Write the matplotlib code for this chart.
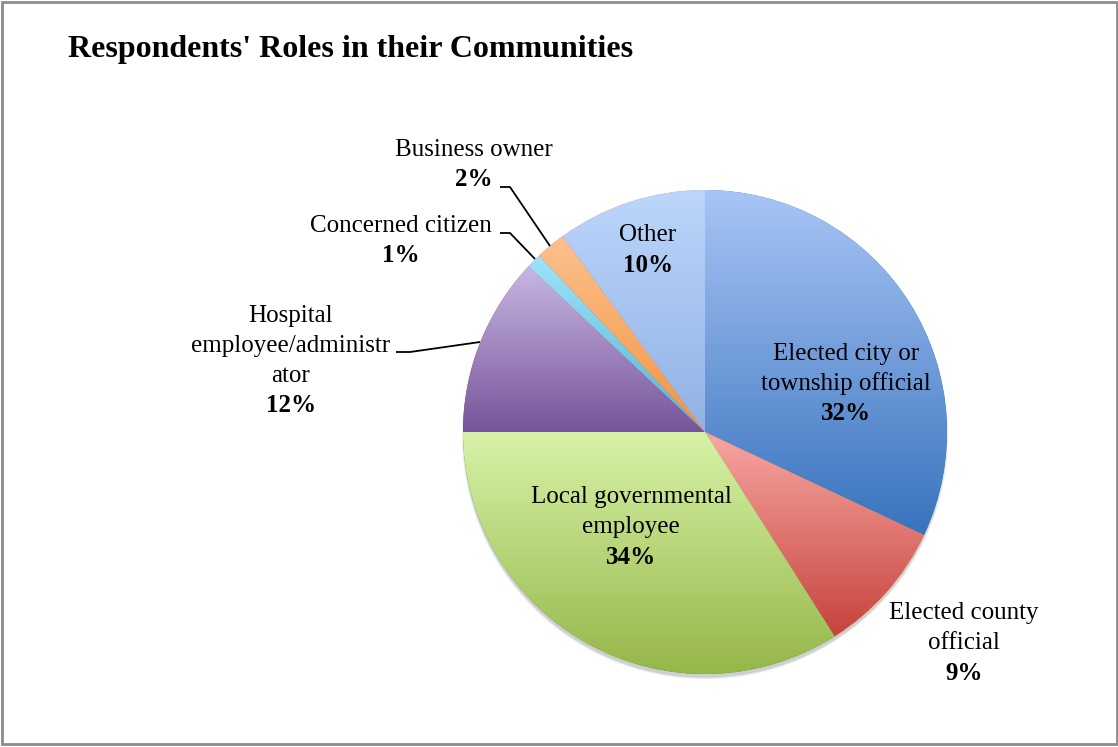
import numpy as np
import matplotlib
matplotlib.use("Agg")
import matplotlib.pyplot as plt
from matplotlib.colors import to_rgb
from matplotlib.patches import Rectangle, Circle

plt.rcParams['font.family'] = ['Liberation Serif', 'DejaVu Serif']

# Data
categories = ["Elected city or\ntownship official", "Elected county\nofficial",
              "Local governmental\nemployee", "Hospital\nemployee/administr\nator",
              "Concerned citizen", "Business owner", "Other"]
shares = [32, 9, 34, 12, 1, 2, 10]
title = "Respondents' Roles in their Communities"

# Top / bottom colours of each slice's vertical gradient
top_colors = ["#a9c5f6", "#f8a7a2", "#d7f3a8", "#c7b7e2", "#a0e2fa", "#fcc08e", "#bcd6fb"]
bottom_colors = ["#3873bd", "#c6433d", "#95b648", "#77549a", "#52b5d4", "#f2953f", "#92b2e4"]

W, H = 1118, 747
fig = plt.figure(figsize=(W / 100, H / 100), dpi=100)
ax = fig.add_axes([0, 0, 1, 1])
ax.set_axis_off()

cx, cy, R = 705, H - 432, 242

# soft shadow under the pie
for k, a in zip(range(5, 0, -1), [0.02, 0.03, 0.04, 0.05, 0.06]):
    ax.add_patch(Circle((cx, cy - 4), R + k * 0.5 - 1, color="#000000", alpha=a,
                        lw=0, zorder=1))

wedges, _ = ax.pie(shares, startangle=90, counterclock=False, center=(cx, cy),
                   radius=R, wedgeprops=dict(linewidth=0), frame=False)

for w, ct, cb in zip(wedges, top_colors, bottom_colors):
    w.set_zorder(2)
    verts = w.get_path().vertices
    x0, x1 = verts[:, 0].min(), verts[:, 0].max()
    y0, y1 = verts[:, 1].min(), verts[:, 1].max()
    t = np.linspace(0, 1, 256)[:, None]
    c_top, c_bot = np.array(to_rgb(ct)), np.array(to_rgb(cb))
    grad = (c_bot[None, :] * (1 - t) + c_top[None, :] * t)[:, None, :]
    im = ax.imshow(grad, extent=(x0, x1, y0, y1), origin="lower", aspect="auto",
                   zorder=3, interpolation="bilinear")
    im.set_clip_path(w)

ax.set_xlim(0, W)
ax.set_ylim(0, H)
ax.set_aspect("auto")

# Labels: (x, y of block centre in pixels from top-left)
label_pos = [(846, 384), (964, 643), (631, 527), (291, 361), (401, 241), (474, 165), (648, 250)]
fs = 18
for name, pct, (lx, ly) in zip(categories, shares, label_pos):
    nlines = name.count("\n") + 1
    lh = 30
    top = ly - (nlines + 1) * lh / 2 + lh / 2
    for i, line in enumerate(name.split("\n")):
        ax.text(lx, H - (top + i * lh), line, ha="center", va="center",
                fontsize=fs, zorder=5)
    ax.text(lx, H - (top + nlines * lh), f"{pct}%", ha="center", va="center",
            fontsize=fs, fontweight="bold", zorder=5)

# Leader lines for the labels outside the pie
leaders = [
    [(396, 352), (410, 352), (480, 342)],
    [(500, 233), (510, 233), (535, 259)],
    [(500, 187), (510, 187), (550, 246)],
]
for pts in leaders:
    xs = [p[0] for p in pts]
    ys = [H - p[1] for p in pts]
    ax.plot(xs, ys, color="black", lw=1.3, zorder=6, solid_capstyle="butt")

ax.text(68, H - 50, title, ha="left", va="center", fontsize=23,
        fontweight="bold", zorder=5)

# chart border
ax.add_patch(Rectangle((1.5, H - 744), W - 3, 742, fill=False, ec="#8c8c8c",
                       lw=2, zorder=7))

fig.savefig("out.png", dpi=100)
